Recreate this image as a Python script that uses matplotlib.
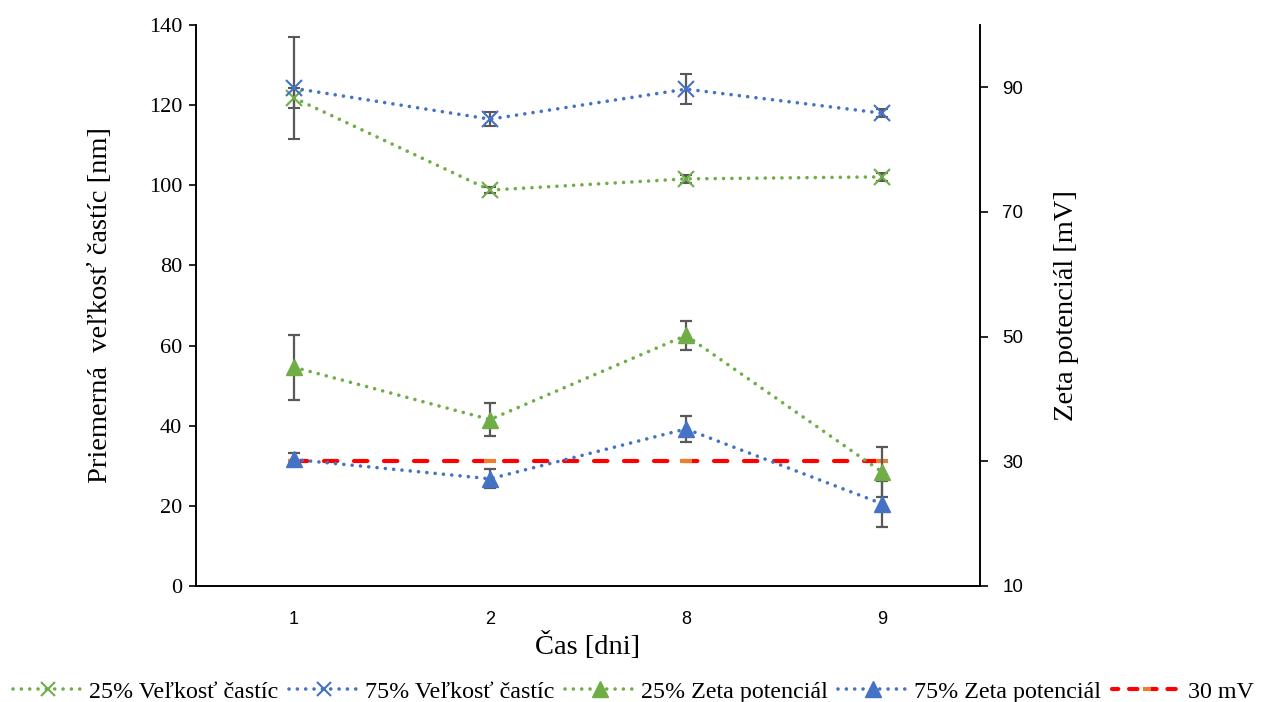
import matplotlib.pyplot as plt
import numpy as np
from matplotlib.lines import Line2D

# Data
days = ['1', '2', '8', '9']

size_25 = [121.8, 98.8, 101.6, 102.1]
size_25_err = [2.4, 0.8, 1.0, 1.0]
size_75 = [124.2, 116.5, 124.0, 118.0]
size_75_err = [12.7, 1.8, 3.7, 1.0]

zeta_25 = [45.1, 36.7, 50.2, 28.3]
zeta_25_err = [5.2, 2.7, 2.3, 4.0]
zeta_75 = [30.3, 27.2, 35.2, 23.2]
zeta_75_err = [1.1, 1.5, 2.1, 3.7]

ref_30 = [30, 30, 30, 30]

green = '#70AD47'
blue = '#4472C4'
errc = '#595959'
serif = 'Liberation Serif'
sans = 'Liberation Sans'

x = np.arange(len(days))
dot = (0, (0.01, 2.3))
dash = (0, (3.2, 4.0))

fig = plt.figure(figsize=(12.67, 7.02), dpi=100)
ax = fig.add_axes([196 / 1267, 1 - 586 / 702, 784 / 1267, 561 / 702])
ax2 = ax.twinx()

err_kw = dict(ecolor=errc, elinewidth=1.6, capsize=4.5, capthick=1.6)
line_kw = dict(linestyle=dot, lw=2.6, dash_capstyle='round')

# particle size on left axis
ax.errorbar(x, size_25, yerr=size_25_err, color=green, marker='x', markersize=11,
            mew=1.5, **err_kw, **line_kw)
ax.errorbar(x, size_75, yerr=size_75_err, color=blue, marker='x', markersize=11,
            mew=1.5, **err_kw, **line_kw)

# zeta potential on right axis
ax2.plot(x, ref_30, color='#FF0000', linestyle=dash, lw=3, dash_capstyle='round',
         marker='_', markersize=8, mec='#ED7D31', mew=3, zorder=1)
ax2.errorbar(x, zeta_25, yerr=zeta_25_err, color=green, marker='^', markersize=12,
             **err_kw, **line_kw)
ax2.errorbar(x, zeta_75, yerr=zeta_75_err, color=blue, marker='^', markersize=12,
             **err_kw, **line_kw)

ax.set_xlim(-0.5, 3.5)
ax.set_ylim(0, 140)
ax.set_yticks(range(0, 141, 20))
ax2.set_ylim(10, 100)
ax2.set_yticks(range(10, 91, 20))

ax.set_xticks(x)
ax.set_xticklabels(days, fontfamily=sans, fontsize=13)
for lab in ax.get_yticklabels():
    lab.set_fontfamily(serif)
    lab.set_fontsize(16)
for lab in ax2.get_yticklabels():
    lab.set_fontfamily(sans)
    lab.set_fontsize(13.5)

ax.tick_params(axis='x', length=0, pad=18)
ax.tick_params(axis='y', length=5, width=1.2, direction='out', pad=5)
ax2.tick_params(axis='y', length=6, width=1.2, direction='out', pad=10)

for a in (ax, ax2):
    a.spines['top'].set_visible(False)
    for s in ('left', 'right', 'bottom'):
        a.spines[s].set_linewidth(1.2)

ax.set_xlabel('Čas [dni]', fontfamily=serif, fontsize=20.5, labelpad=3)
ax.set_ylabel('Priemerná  veľkosť častíc [nm]', fontfamily=serif, fontsize=20.5, labelpad=26)
ax2.set_ylabel('Zeta potenciál [mV]', fontfamily=serif, fontsize=20.5, labelpad=22)

handles = [
    Line2D([], [], color=green, marker='x', markersize=10, mew=1.5, **line_kw),
    Line2D([], [], color=blue, marker='x', markersize=10, mew=1.5, **line_kw),
    Line2D([], [], color=green, marker='^', markersize=11, **line_kw),
    Line2D([], [], color=blue, marker='^', markersize=11, **line_kw),
    Line2D([], [], color='#FF0000', linestyle=(0.5, (2.0, 2.6)), lw=3, dash_capstyle='round',
           marker='_', markersize=6, mec='#ED7D31', mew=3),
]
labels = ['25% Veľkosť častíc', '75% Veľkosť častíc', '25% Zeta potenciál',
          '75% Zeta potenciál', '30 mV']
fig.legend(handles, labels, loc='lower center', bbox_to_anchor=(0.5, -0.032), ncol=5,
           frameon=False, prop={'family': serif, 'size': 17.3}, handlelength=2.9,
           columnspacing=0.45, handletextpad=0.25)

fig.savefig('out.png', dpi=100)
